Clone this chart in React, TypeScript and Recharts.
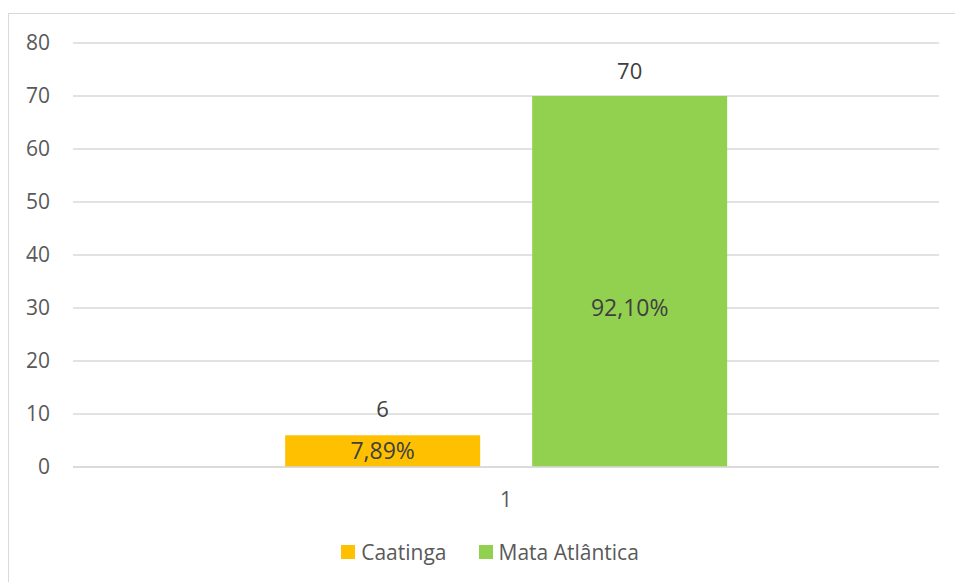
import { BarChart, Bar, XAxis, YAxis, CartesianGrid, Legend, LabelList } from 'recharts'

const categories = ['1']
const caatinga = [6]
const mataAtlantica = [70]
const caatingaPct = ['7,89%']
const mataPct = ['92,10%']
const yTicks = [0, 10, 20, 30, 40, 50, 60, 70, 80]

const series = [
  { key: 'caatinga', name: 'Caatinga', color: '#FFC000' },
  { key: 'mata', name: 'Mata Atlântica', color: '#92D050' }
]

const data = categories.map((c, i) => ({
  cat: c,
  caatinga: caatinga[i],
  mata: mataAtlantica[i],
  caatingaPct: caatingaPct[i],
  mataPct: mataPct[i]
}))

const font = '"Open Sans", sans-serif'
const textColor = '#595959'

function LegendBox() {
  return (
    <div style={{ display: 'flex', justifyContent: 'center', paddingLeft: 41, fontFamily: font, fontSize: 21, color: textColor }}>
      {series.map(s => (
        <div key={s.key} style={{ display: 'flex', alignItems: 'center', margin: '0 16px' }}>
          <span style={{ width: 14, height: 14, background: s.color, marginRight: 6, display: 'inline-block' }} />
          <span>{s.name}</span>
        </div>
      ))}
    </div>
  )
}

export default function App() {
  return (
    <div style={{ position: 'absolute', left: 0, top: 0, width: 955, height: 582, background: '#fff', overflow: 'hidden' }}>
      <div style={{ position: 'absolute', left: 8, top: 13, width: 960, height: 600, border: '1.5px solid #d9d9d9', boxSizing: 'border-box' }} />
      <BarChart
        width={955}
        height={582}
        data={data}
        margin={{ top: 43, right: 16, left: 0, bottom: 16 }}
        barCategoryGap="24.5%"
        barGap={52}
        style={{ fontFamily: font }}
      >
        <CartesianGrid vertical={false} stroke="#d9d9d9" strokeWidth={1.5} />
        <XAxis
          dataKey="cat"
          height={71}
          tickLine={false}
          axisLine={{ stroke: '#d9d9d9', strokeWidth: 1.5 }}
          tickMargin={19}
          tick={{ fill: textColor, fontSize: 21 }}
        />
        <YAxis
          width={73}
          domain={[0, 80]}
          ticks={yTicks}
          tickLine={false}
          axisLine={false}
          tickMargin={17}
          tick={{ fill: textColor, fontSize: 21 }}
        />
        <Legend verticalAlign="bottom" content={() => <LegendBox />} />
        <Bar dataKey="caatinga" name="Caatinga" fill="#FFC000" isAnimationActive={false}>
          <LabelList dataKey="caatinga" position="top" offset={18} fill="#404040" fontSize={22} />
          <LabelList dataKey="caatingaPct" position="center" fill="#404040" fontSize={23} />
        </Bar>
        <Bar dataKey="mata" name="Mata Atlântica" fill="#92D050" isAnimationActive={false}>
          <LabelList dataKey="mata" position="top" offset={17} fill="#404040" fontSize={22} />
          <LabelList dataKey="mataPct" position="insideTop" offset={204} fill="#404040" fontSize={23} />
        </Bar>
      </BarChart>
    </div>
  )
}
